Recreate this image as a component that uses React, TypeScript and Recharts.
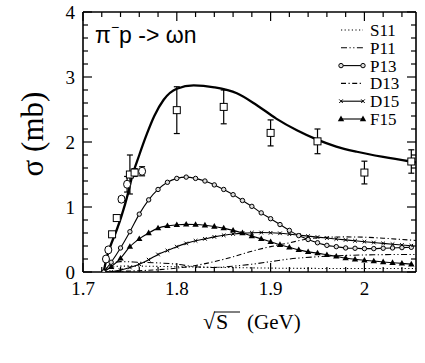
import React from "react";
import { ComposedChart, Line, Scatter, ErrorBar, XAxis, YAxis } from "recharts";

// axis ticks (minor every 0.02 / 0.2, labels on the major ones)
const xTicks = [1.7, 1.72, 1.74, 1.76, 1.78, 1.8, 1.82, 1.84, 1.86, 1.88, 1.9, 1.92, 1.94, 1.96, 1.98, 2, 2.02, 2.04];
const yTicks = [0, 0.2, 0.4, 0.6, 0.8, 1, 1.2, 1.4, 1.6, 1.8, 2, 2.2, 2.4, 2.6, 2.8, 3, 3.2, 3.4, 3.6, 3.8, 4];

// total cross section (thick line)
const totalE = [1.722, 1.725, 1.729, 1.736, 1.741, 1.748, 1.752, 1.76, 1.768, 1.776, 1.786, 1.8, 1.818, 1.84, 1.864, 1.885, 1.906, 1.928, 1.949, 1.97, 1.992, 2.02, 2.049, 2.058];
const totalS = [0, 0.2, 0.39, 0.65, 0.86, 1.21, 1.45, 1.8, 2.12, 2.4, 2.65, 2.82, 2.87, 2.84, 2.75, 2.57, 2.36, 2.18, 2.04, 1.93, 1.85, 1.77, 1.7, 1.68];

// partial waves with markers, one value per grid energy
const gridE = [1.722, 1.73, 1.74, 1.75, 1.76, 1.77, 1.78, 1.79, 1.8, 1.81, 1.82, 1.83, 1.84, 1.85, 1.86, 1.87, 1.88, 1.89, 1.9, 1.91, 1.92, 1.93, 1.94, 1.95, 1.96, 1.97, 1.98, 1.99, 2, 2.01, 2.02, 2.03, 2.04, 2.05];
const p13 = [0, 0.15, 0.37, 0.62, 0.89, 1.11, 1.27, 1.38, 1.44, 1.46, 1.44, 1.4, 1.34, 1.27, 1.19, 1.1, 1.01, 0.91, 0.82, 0.73, 0.64, 0.56, 0.5, 0.45, 0.41, 0.39, 0.37, 0.365, 0.36, 0.36, 0.365, 0.37, 0.375, 0.38];
const f15 = [0, 0.08, 0.21, 0.39, 0.51, 0.6, 0.675, 0.71, 0.725, 0.733, 0.73, 0.72, 0.7, 0.675, 0.64, 0.6, 0.555, 0.51, 0.465, 0.42, 0.38, 0.34, 0.31, 0.29, 0.265, 0.24, 0.215, 0.195, 0.18, 0.168, 0.155, 0.143, 0.132, 0.12];
const d15 = [0, 0.005, 0.03, 0.07, 0.12, 0.19, 0.27, 0.33, 0.39, 0.44, 0.48, 0.51, 0.54, 0.565, 0.585, 0.598, 0.605, 0.607, 0.603, 0.595, 0.582, 0.567, 0.552, 0.537, 0.522, 0.508, 0.494, 0.48, 0.466, 0.453, 0.44, 0.428, 0.416, 0.405];

// partial waves drawn with dash patterns
const s11E = [1.722, 1.73, 1.74, 1.76, 1.8, 1.85, 1.9, 1.95, 2, 2.06];
const s11 = [0, 0.07, 0.09, 0.09, 0.08, 0.07, 0.06, 0.055, 0.055, 0.055];
const p11E = [1.722, 1.73, 1.74, 1.76, 1.78, 1.8, 1.82, 1.84, 1.86, 1.88, 1.9, 1.92, 1.95, 1.98, 2.01, 2.04, 2.06];
const p11 = [0, 0.12, 0.16, 0.15, 0.14, 0.12, 0.08, 0.07, 0.09, 0.12, 0.16, 0.2, 0.235, 0.255, 0.265, 0.27, 0.27];
const d13E = [1.722, 1.74, 1.76, 1.78, 1.8, 1.82, 1.84, 1.86, 1.88, 1.9, 1.92, 1.94, 1.96, 1.98, 2, 2.02, 2.04, 2.06];
const d13 = [0, 0.01, 0.02, 0.035, 0.06, 0.1, 0.16, 0.235, 0.32, 0.39, 0.45, 0.51, 0.535, 0.54, 0.535, 0.52, 0.5, 0.48];

// experimental points
const sqE = [1.731, 1.736, 1.75, 1.755, 1.8, 1.85, 1.9, 1.95, 2.0, 2.05];
const sqS = [0.58, 0.83, 1.5, 1.53, 2.49, 2.54, 2.14, 2.01, 1.53, 1.7];
const sqErr = [0.03, 0.03, 0.3, 0.06, 0.36, 0.26, 0.2, 0.19, 0.175, 0.18];
const ciE = [1.7245, 1.727, 1.741, 1.747, 1.763];
const ciS = [0.2, 0.34, 1.12, 1.35, 1.55];
const ciErr = [0.03, 0.03, 0.04, 0.12, 0.07];

const legendNames = ["S11", "P11", "P13", "D13", "D15", "F15"];

const pts = (xs: number[], ys: number[]) => xs.map((x, i) => ({ x, y: ys[i] }));
const errPts = (xs: number[], ys: number[], es: number[]) => xs.map((x, i) => ({ x, y: ys[i], err: es[i] }));

const serif = "Liberation Serif, Times New Roman, serif";
const sans = "Liberation Sans, Arial, sans-serif";

const isMajor = (v: number, step: number) => Math.abs(v / step - Math.round(v / step)) < 1e-6;

const BottomTick = (p: any) => {
  const major = isMajor(p.payload.value, 0.1);
  return (
    <g>
      <line x1={p.x} y1={p.y} x2={p.x} y2={p.y - (major ? 9 : 5)} stroke="#000" strokeWidth={1.2} />
      {major && (
        <text x={p.x} y={p.y + 23} textAnchor="middle" fontFamily={serif} fontSize={19} fill="#000">
          {String(p.payload.value)}
        </text>
      )}
    </g>
  );
};
const TopTick = (p: any) => {
  const major = isMajor(p.payload.value, 0.1);
  return <line x1={p.x} y1={p.y} x2={p.x} y2={p.y + (major ? 9 : 5)} stroke="#000" strokeWidth={1.2} />;
};
const LeftTick = (p: any) => {
  const major = isMajor(p.payload.value, 1);
  return (
    <g>
      <line x1={p.x} y1={p.y} x2={p.x + (major ? 9 : 5)} y2={p.y} stroke="#000" strokeWidth={1.2} />
      {major && (
        <text x={p.x - 8} y={p.y + 7} textAnchor="end" fontFamily={serif} fontSize={19} fill="#000">
          {String(p.payload.value)}
        </text>
      )}
    </g>
  );
};
const RightTick = (p: any) => {
  const major = isMajor(p.payload.value, 1);
  return <line x1={p.x} y1={p.y} x2={p.x - (major ? 9 : 5)} y2={p.y} stroke="#000" strokeWidth={1.2} />;
};

const circleDot = (p: any) => (
  <circle key={p.index} cx={p.cx} cy={p.cy} r={2.2} fill="#ddd" stroke="#000" strokeWidth={1} />
);
const triDot = (p: any) => (
  <path key={p.index} d={`M${p.cx},${p.cy - 3.4}L${p.cx + 3.2},${p.cy + 2.2}L${p.cx - 3.2},${p.cy + 2.2}Z`} fill="#000" />
);
const crossDot = (p: any) => (
  <path key={p.index} d={`M${p.cx - 1.8},${p.cy - 1.8}L${p.cx + 1.8},${p.cy + 1.8}M${p.cx - 1.8},${p.cy + 1.8}L${p.cx + 1.8},${p.cy - 1.8}`} stroke="#000" strokeWidth={1} />
);
const squareShape = (p: any) => <rect x={p.cx - 3.5} y={p.cy - 3.5} width={7} height={7} fill="#fff" stroke="#000" strokeWidth={1} />;
const ovalShape = (p: any) => <ellipse cx={p.cx} cy={p.cy} rx={3.5} ry={4} fill="#fff" stroke="#000" strokeWidth={1} />;

const legendRows: { name: string; dash?: string; marker?: "circle" | "tri" | "cross" }[] = [
  { name: legendNames[0], dash: "1.2 2.4" },
  { name: legendNames[1], dash: "6 2.5 1.2 2.5 1.2 2.5" },
  { name: legendNames[2], marker: "circle" },
  { name: legendNames[3], dash: "5 2.5 1.2 2.5" },
  { name: legendNames[4], marker: "cross" },
  { name: legendNames[5], marker: "tri" },
];

export default function App() {
  const axisLine = { stroke: "#000", strokeWidth: 1.6 };
  return (
    <div style={{ position: "absolute", left: 0, top: 0, width: 425, height: 363, background: "#fff" }}>
      <ComposedChart width={425} height={363} margin={{ top: 11, right: 8, bottom: 90, left: 82 }}>
        <XAxis dataKey="x" type="number" domain={[1.7, 2.055]} allowDataOverflow ticks={xTicks} interval={0}
          height={1} tickLine={false} tickSize={0} tickMargin={0} axisLine={axisLine} tick={BottomTick} />
        <XAxis xAxisId="top" orientation="top" dataKey="x" type="number" domain={[1.7, 2.055]} allowDataOverflow ticks={xTicks}
          interval={0} height={1} tickLine={false} tickSize={0} tickMargin={0} axisLine={axisLine} tick={TopTick} />
        <YAxis type="number" domain={[0, 4]} allowDataOverflow ticks={yTicks} interval={0} width={1}
          tickLine={false} tickSize={0} tickMargin={0} axisLine={axisLine} tick={LeftTick} />
        <YAxis yAxisId="right" orientation="right" type="number" domain={[0, 4]} allowDataOverflow ticks={yTicks} interval={0}
          width={1} tickLine={false} tickSize={0} tickMargin={0} axisLine={axisLine} tick={RightTick} />

        <Line data={pts(s11E, s11)} dataKey="y" type="monotone" stroke="#000" strokeWidth={1.1} strokeDasharray="1.2 2.4" dot={false} isAnimationActive={false} />
        <Line data={pts(p11E, p11)} dataKey="y" type="monotone" stroke="#000" strokeWidth={1.1} strokeDasharray="6 2.5 1.2 2.5 1.2 2.5" dot={false} isAnimationActive={false} />
        <Line data={pts(d13E, d13)} dataKey="y" type="monotone" stroke="#000" strokeWidth={1.1} strokeDasharray="5 2.5 1.2 2.5" dot={false} isAnimationActive={false} />
        <Line data={pts(gridE, d15)} dataKey="y" type="monotone" stroke="#000" strokeWidth={1.1} dot={crossDot} isAnimationActive={false} />
        <Line data={pts(gridE, f15)} dataKey="y" type="monotone" stroke="#000" strokeWidth={1.1} dot={triDot} isAnimationActive={false} />
        <Line data={pts(gridE, p13)} dataKey="y" type="monotone" stroke="#000" strokeWidth={1.1} dot={circleDot} isAnimationActive={false} />
        <Line data={pts(totalE, totalS)} dataKey="y" type="monotone" stroke="#000" strokeWidth={2.3} dot={false} isAnimationActive={false} />

        <Scatter data={errPts(sqE, sqS, sqErr)} dataKey="y" shape={squareShape} isAnimationActive={false}>
          <ErrorBar dataKey="err" direction="y" width={3} stroke="#000" strokeWidth={1.2} />
        </Scatter>
        <Scatter data={errPts(ciE, ciS, ciErr)} dataKey="y" shape={ovalShape} isAnimationActive={false}>
          <ErrorBar dataKey="err" direction="y" width={3} stroke="#000" strokeWidth={1.2} />
        </Scatter>
      </ComposedChart>

      <svg width={425} height={363} style={{ position: "absolute", left: 0, top: 0, pointerEvents: "none" }}>
        <text x={95} y={43} fontFamily={sans} fontSize={23} fill="#000">
          π<tspan dy={-11} fontSize={14}>−</tspan><tspan dy={11}>p  -&gt; ωn</tspan>
        </text>
        <text x={43} y={134} transform="rotate(-90 43 134)" textAnchor="middle" fontFamily={serif} fontSize={31} fill="#000">
          σ (mb)
        </text>
        <text x={203} y={329} fontFamily={serif} fontSize={22} fill="#000">√</text>
        <line x1={214} y1={312} x2={240} y2={312} stroke="#000" strokeWidth={1} />
        <text x={216} y={329} fontFamily={serif} fontSize={22} fill="#000">S</text>
        <text x={247} y={329} fontFamily={serif} fontSize={21} fill="#000">(GeV)</text>

        {legendRows.map((r, i) => {
          const cy = 30 + i * 17.8;
          return (
            <g key={r.name}>
              <line x1={341} y1={cy} x2={363} y2={cy} stroke="#000" strokeWidth={1.1} strokeDasharray={r.dash} />
              {r.marker === "circle" && [341, 363].map((x) => circleDot({ cx: x, cy, index: x }))}
              {r.marker === "tri" && [341, 363].map((x) => triDot({ cx: x, cy, index: x }))}
              {r.marker === "cross" && [341, 363].map((x) => crossDot({ cx: x, cy, index: x }))}
              <text x={370} y={cy + 6} fontFamily={serif} fontSize={17} fill="#000">{r.name}</text>
            </g>
          );
        })}
      </svg>
    </div>
  );
}
